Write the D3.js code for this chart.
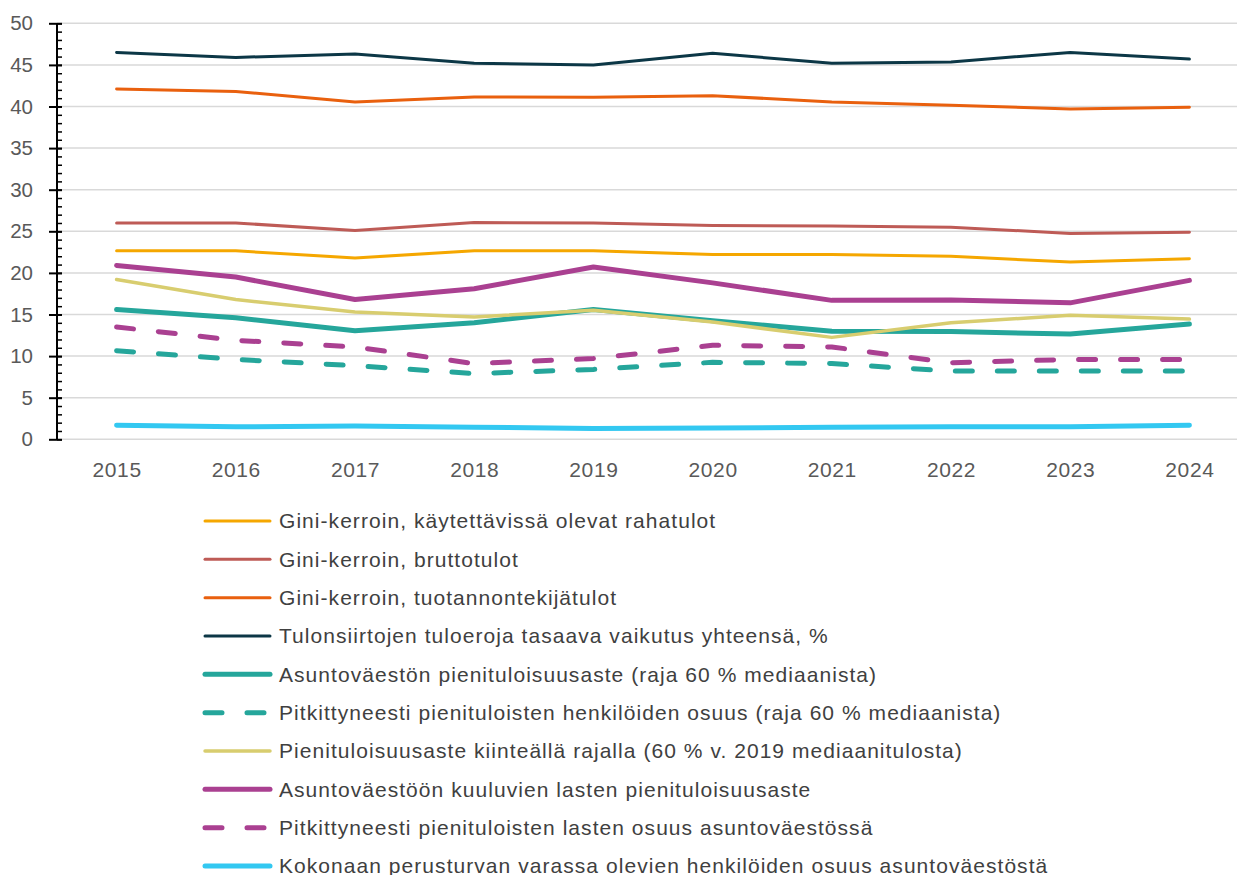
<!DOCTYPE html>
<html><head><meta charset="utf-8">
<script src="https://cdn.jsdelivr.net/npm/d3@7"></script>
<style>
html,body{margin:0;padding:0;background:#fff;}
svg{display:block;}
</style></head>
<body>
<svg id="chart" width="1237" height="875"></svg>
<script>
const years = ["2015","2016","2017","2018","2019","2020","2021","2022","2023","2024"];
const yTicks = [0,5,10,15,20,25,30,35,40,45,50];

const giniKaytettavissa = [22.65,22.65,21.8,22.65,22.65,22.2,22.2,22.0,21.3,21.7];
const giniBrutto = [26.0,26.0,25.1,26.05,26.0,25.7,25.65,25.5,24.75,24.9];
const giniTuotannontekija = [42.1,41.8,40.55,41.15,41.1,41.3,40.55,40.15,39.7,39.9];
const tulonsiirtojenVaikutus = [46.5,45.9,46.3,45.2,45.0,46.4,45.2,45.35,46.5,45.7];
const asuntovaestonPienituloisuus = [15.6,14.6,13.05,14.0,15.6,14.25,13.0,12.95,12.65,13.85];
const pitkittyneestiHenkilot = [10.65,9.6,8.85,7.9,8.4,9.25,9.1,8.2,8.2,8.2];
const kiinteaRaja = [19.2,16.8,15.3,14.7,15.5,14.1,12.25,14.0,14.9,14.45];
const lastenPienituloisuus = [20.9,19.5,16.8,18.1,20.7,18.8,16.7,16.75,16.4,19.1];
const pitkittyneestiLapset = [13.5,11.9,11.1,9.1,9.7,11.3,11.1,9.2,9.6,9.6];
const perusturva = [1.7,1.5,1.6,1.45,1.3,1.35,1.45,1.5,1.5,1.7];

const series = [
  {name:"Gini-kerroin, käytettävissä olevat rahatulot", values:giniKaytettavissa, color:"#F5A700", w:3, dash:null},
  {name:"Gini-kerroin, bruttotulot", values:giniBrutto, color:"#BE5B56", w:3, dash:null},
  {name:"Gini-kerroin, tuotannontekijätulot", values:giniTuotannontekija, color:"#E9600E", w:3, dash:null},
  {name:"Tulonsiirtojen tuloeroja tasaava vaikutus yhteensä, %", values:tulonsiirtojenVaikutus, color:"#0C3746", w:3, dash:null},
  {name:"Asuntoväestön pienituloisuusaste (raja 60 % mediaanista)", values:asuntovaestonPienituloisuus, color:"#25A69B", w:5, dash:null},
  {name:"Pitkittyneesti pienituloisten henkilöiden osuus (raja 60 % mediaanista)", values:pitkittyneestiHenkilot, color:"#25A69B", w:5, dash:"17 25"},
  {name:"Pienituloisuusaste kiinteällä rajalla (60 % v. 2019 mediaanitulosta)", values:kiinteaRaja, color:"#D8CD6F", w:3.5, dash:null},
  {name:"Asuntoväestöön kuuluvien lasten pienituloisuusaste", values:lastenPienituloisuus, color:"#AA4091", w:5, dash:null},
  {name:"Pitkittyneesti pienituloisten lasten osuus asuntoväestössä", values:pitkittyneestiLapset, color:"#AA4091", w:5, dash:"17 25"},
  {name:"Kokonaan perusturvan varassa olevien henkilöiden osuus asuntoväestöstä", values:perusturva, color:"#33C8F1", w:5, dash:null}
];
const drawOrder = [9,8,5,4,6,7,0,1,2,3];

const svg = d3.select("#chart");
const font = "'Liberation Sans', Arial, sans-serif";
const mLeft = 57, mRight = 1249, mTop = 23.3, mBottom = 439.3;

const x = d3.scalePoint().domain(years).range([mLeft, mRight]).padding(0.5);
const y = d3.scaleLinear().domain([0,50]).range([mBottom, mTop]);

svg.append("g").selectAll("line").data(yTicks).join("line")
  .attr("x1", mLeft).attr("x2", 1237)
  .attr("y1", d=>y(d)).attr("y2", d=>y(d))
  .attr("stroke", "#d9d9d9").attr("stroke-width", 1.5);

const line = d3.line().x((d,i)=>x(years[i])).y(d=>y(d));
const lg = svg.append("g");
drawOrder.forEach(i=>{
  const s = series[i];
  lg.append("path").datum(s.values)
    .attr("d", line).attr("fill","none")
    .attr("stroke", s.color).attr("stroke-width", s.w)
    .attr("stroke-linecap","round").attr("stroke-linejoin","round")
    .attr("stroke-dasharray", s.dash);
});

const yAxisMinor = d3.axisRight(y).ticks(50).tickSize(5).tickFormat("");
const gMinor = svg.append("g").attr("transform",`translate(${mLeft},0)`).call(yAxisMinor);
gMinor.select(".domain").remove();
gMinor.selectAll("line").attr("stroke","#000").attr("stroke-width",1.5);

const yAxis = d3.axisLeft(y).tickValues(yTicks).tickSize(8).tickPadding(16);
const gy = svg.append("g").attr("transform",`translate(${mLeft},0)`).call(yAxis);
gy.select(".domain").attr("stroke","#000").attr("stroke-width",2)
  .attr("d", `M0,${mBottom}V${mTop}`);
gy.selectAll(".tick line").attr("stroke","#000").attr("stroke-width",2).attr("x2",-8).attr("x1",5);
gy.selectAll("text").attr("fill","#595959").style("font-family",font).style("font-size","20.5px");

const xAxis = d3.axisBottom(x).tickSize(0).tickPadding(23);
const gx = svg.append("g").attr("transform",`translate(0,${mBottom})`).call(xAxis);
gx.select(".domain").remove();
gx.selectAll("text").attr("fill","#595959").style("font-family",font).style("font-size","21px")
  .style("letter-spacing","0.6px");

const legend = svg.append("g");
const rowY = d3.scaleLinear().domain([0,9]).range([521, 866]);
series.forEach((s,i)=>{
  const g = legend.append("g").attr("transform",`translate(0,${rowY(i)})`);
  g.append("line").attr("x1",205).attr("x2",270).attr("y1",0).attr("y2",0)
    .attr("stroke",s.color).attr("stroke-width",s.w)
    .attr("stroke-linecap","round")
    .attr("stroke-dasharray", s.dash ? "17 25" : null);
  g.append("text").attr("x",279).attr("y",0).attr("dy","0.35em")
    .attr("fill","#404040").style("font-family",font).style("font-size","21px")
    .style("letter-spacing","1.05px")
    .text(s.name);
});
</script>
</body></html>
